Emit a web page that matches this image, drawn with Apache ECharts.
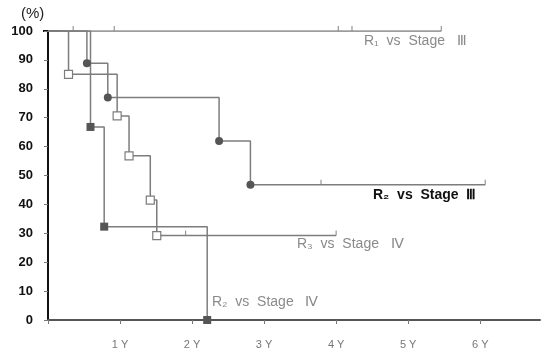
<!DOCTYPE html>
<html>
<head>
<meta charset="utf-8">
<script src="https://cdn.jsdelivr.net/npm/echarts@6/dist/echarts.min.js"></script>
<style>
  html, body { margin: 0; padding: 0; background: #fff; }
  #main { width: 549px; height: 354px; }
</style>
</head>
<body>
<div id="main"></div>
<script>
// survival curves, [years, %]
var r3StageIV = [[0, 100], [0.285, 85], [0.96, 70.6], [1.125, 56.8], [1.42, 41.5], [1.51, 29.2], [4.0, 29.2]];
var r2StageIII = [[0, 100], [0.54, 88.8], [0.83, 77], [2.375, 61.9], [2.81, 46.8], [6.07, 46.8]];
var r2StageIV = [[0, 100], [0.59, 66.8], [0.78, 32.3], [2.21, 0]];
var r1StageIII = [[0, 100], [5.46, 100]];

// censored cases (small ticks)
var censorR3IV = [[1.91, 29.2], [4.0, 29.2]];
var censorR2III = [[3.79, 46.8], [6.07, 46.8]];
var censorR1III = [[0.35, 100], [0.92, 100], [4.03, 100], [4.22, 100], [5.46, 100]];

var yTicks = [0, 10, 20, 30, 40, 50, 60, 70, 80, 90, 100];
var xLabels = ['', '1 Y', '2 Y', '3 Y', '4 Y', '5 Y', '6 Y'];

var chartDom = document.getElementById('main');
var myChart = echarts.init(chartDom);
var option;

var lineColor = '#7d7d7d';

// markers only on drop points, not on first / last point
function withMarkers(arr) {
  return arr.map(function (p, i) {
    if (i === 0 || i === arr.length - 1) {
      return { value: p, symbol: 'none' };
    }
    return { value: p };
  });
}

function censorSeries(arr) {
  return {
    type: 'scatter',
    data: arr,
    symbol: 'rect',
    symbolSize: [1.2, 5],
    symbolOffset: [0, -2.5],
    itemStyle: { color: lineColor },
    silent: true,
    z: 3
  };
}

option = {
  animation: false,
  grid: { left: 48, top: 31, right: 9, bottom: 34 },
  xAxis: {
    type: 'value',
    min: 0,
    max: 6.83,
    interval: 1,
    splitLine: { show: false },
    axisLine: { lineStyle: { color: '#555', width: 2 } },
    axisTick: { show: true, length: 4, lineStyle: { color: '#777' } },
    axisLabel: {
      color: '#777',
      fontSize: 11,
      margin: 19,
      showMaxLabel: false,
      formatter: function (v) { return xLabels[v] || ''; }
    }
  },
  yAxis: {
    type: 'value',
    min: 0,
    max: 100,
    interval: 10,
    splitLine: { show: false },
    axisLine: { show: true, lineStyle: { color: '#111', width: 2 } },
    axisTick: { show: true, length: 4, lineStyle: { color: '#777' } },
    axisLabel: {
      color: '#111',
      fontSize: 13,
      fontWeight: 'bold',
      fontFamily: 'Liberation Sans',
      margin: 15,
      formatter: function (v) { return yTicks.indexOf(v) >= 0 ? String(v) : ''; }
    }
  },
  graphic: [
    { type: 'text', left: 21, top: 6, style: { text: '(%)', fontSize: 15, fill: '#222', fontFamily: 'Liberation Sans' } },
    { type: 'line', shape: { x1: 43, y1: 31, x2: 60, y2: 31 }, style: { stroke: '#111', lineWidth: 2 } },
    { type: 'text', left: 364, top: 34, style: { text: 'R\u2081  vs  Stage   \u2162', fontSize: 14, fill: '#8a8a8a', fontFamily: 'Liberation Sans' } },
    { type: 'text', left: 373, top: 188, style: { text: 'R\u2082  vs  Stage  \u2162', fontSize: 14, fontWeight: 'bold', fill: '#111', fontFamily: 'Liberation Sans' } },
    { type: 'text', left: 297, top: 237, style: { text: 'R\u2083  vs  Stage   \u2163', fontSize: 14, fill: '#8a8a8a', fontFamily: 'Liberation Sans' } },
    { type: 'text', left: 212, top: 295, style: { text: 'R\u2082  vs  Stage   \u2163', fontSize: 14, fill: '#8a8a8a', fontFamily: 'Liberation Sans' } }
  ],
  series: [
    {
      name: 'R1 vs Stage III',
      type: 'line',
      step: 'end',
      data: r1StageIII,
      showSymbol: false,
      lineStyle: { color: lineColor, width: 1.5 },
      z: 2
    },
    {
      name: 'R3 vs Stage IV',
      type: 'line',
      step: 'end',
      data: withMarkers(r3StageIV),
      symbol: 'rect',
      symbolSize: 8,
      itemStyle: { color: '#fff', borderColor: lineColor, borderWidth: 1.2 },
      lineStyle: { color: lineColor, width: 1.5 },
      z: 4
    },
    {
      name: 'R2 vs Stage III',
      type: 'line',
      step: 'end',
      data: withMarkers(r2StageIII),
      symbol: 'circle',
      symbolSize: 8,
      itemStyle: { color: '#555', borderWidth: 0 },
      lineStyle: { color: lineColor, width: 1.5 },
      z: 4
    },
    {
      name: 'R2 vs Stage IV',
      type: 'line',
      step: 'end',
      data: r2StageIV.map(function (p, i) { return i === 0 ? { value: p, symbol: 'none' } : { value: p }; }),
      symbol: 'rect',
      symbolSize: 8,
      itemStyle: { color: '#555', borderWidth: 0 },
      lineStyle: { color: lineColor, width: 1.5 },
      z: 4
    },
    censorSeries(censorR3IV),
    censorSeries(censorR2III),
    censorSeries(censorR1III)
  ]
};

option && myChart.setOption(option);
</script>
</body>
</html>
